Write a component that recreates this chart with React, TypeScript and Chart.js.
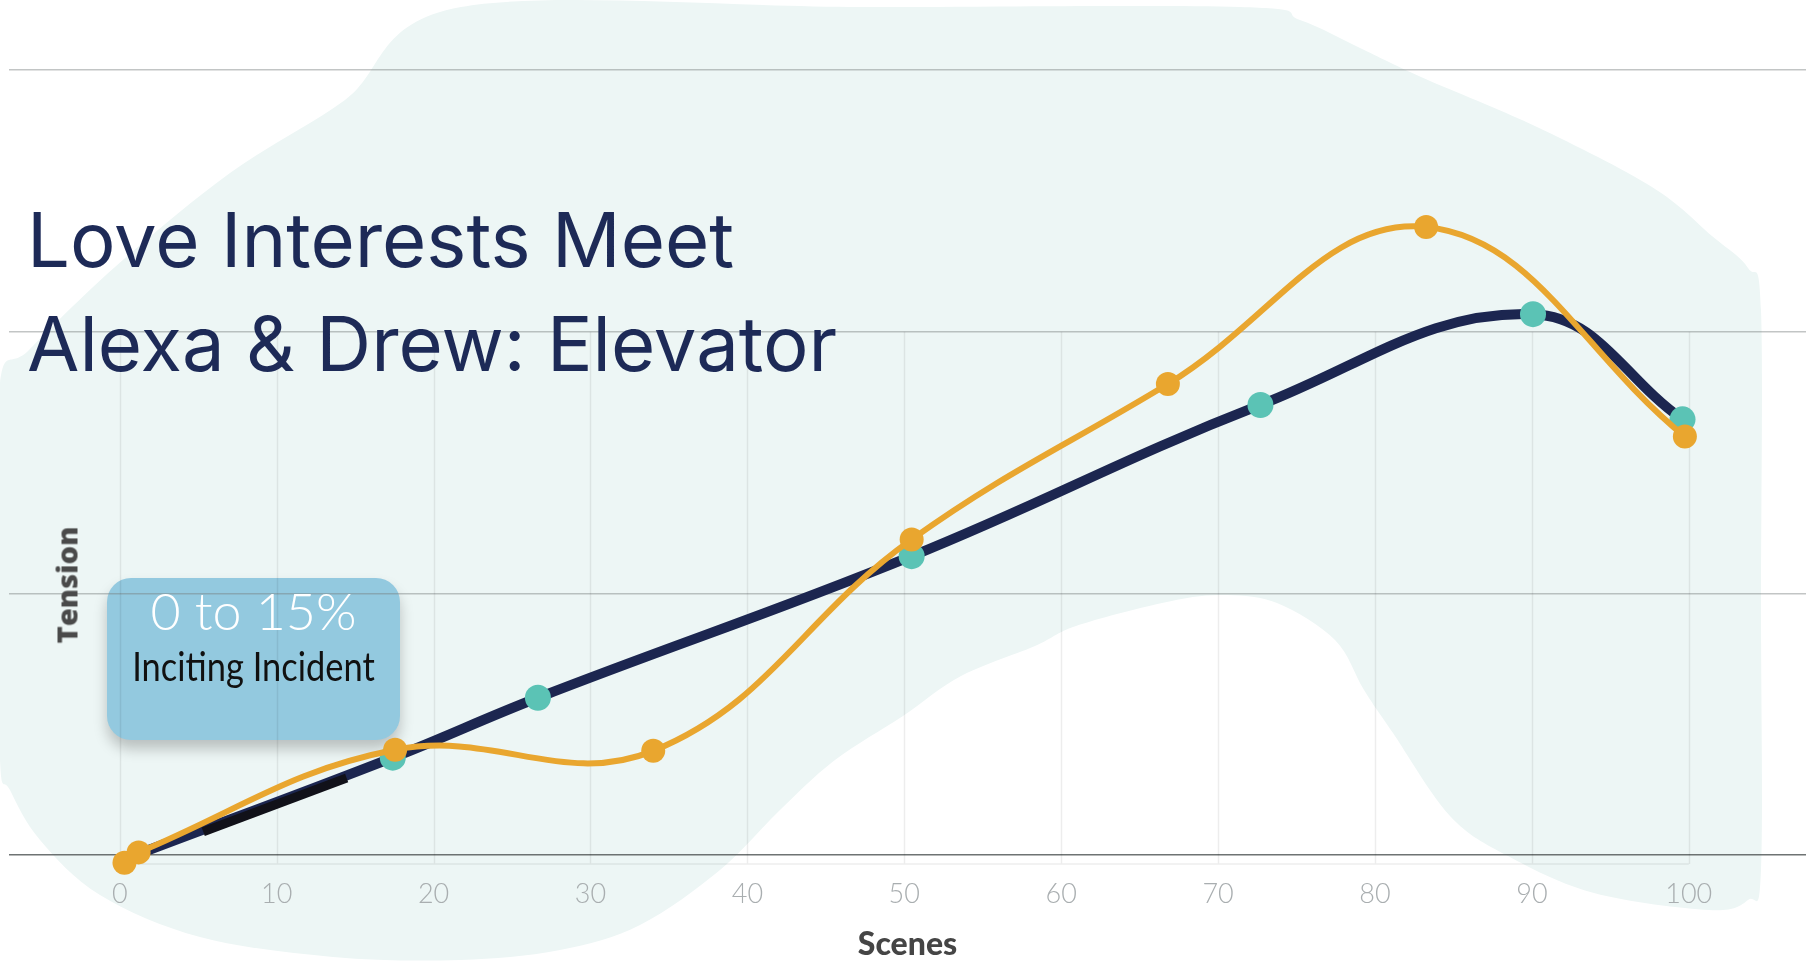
import React, { useEffect, useRef } from "react";
import { Chart, registerables } from "chart.js";

Chart.register(...registerables);

// ---- data ----
const X_TICKS = [0, 10, 20, 30, 40, 50, 60, 70, 80, 90, 100];
const Y_TICKS = [0, 1, 2, 3];
const V_GRID_TOP = 2; // vertical grid lines start at this tension value

const IDEAL_X = [1, 17.4, 26.65, 50.47, 72.7, 90.07, 99.6];
const IDEAL_Y = [0, 0.372, 0.601, 1.142, 1.72, 2.067, 1.665];

const STORY_X = [0.3, 1.2, 17.55, 34.0, 50.47, 66.8, 83.26, 99.75];
const STORY_Y = [-0.03, 0.01, 0.402, 0.398, 1.206, 1.8, 2.4, 1.599];

const MARK_X = [5.32, 14.46];
const MARK_Y = [0.089, 0.294];

const TITLE_LINES = ["Love Interests Meet", "Alexa & Drew: Elevator"];
const CALLOUT_TOP = "0 to 15%";
const CALLOUT_BOTTOM = "Inciting Incident";
const X_TITLE = "Scenes";
const Y_TITLE = "Tension";

// ---- layout constants ----
const W = 1806;
const H = 966;
const X_MIN = -7.06;
const X_MAX = 107.47;

const BLOB_PTS: [number, number][] = [
  [461, 7], [861, 7], [1240, 7], [1300, 20], [1360, 48], [1421, 77], [1537, 127],
  [1652, 187], [1712, 236], [1748, 268], [1761, 310], [1761, 600], [1761, 870],
  [1748, 900], [1709, 910], [1594, 893], [1508, 856], [1450, 816], [1393, 733],
  [1364, 690], [1335, 640], [1277, 603], [1220, 595], [1162, 603], [1076, 626],
  [1035, 646], [961, 676], [903, 716], [835, 760], [780, 810], [720, 870], [640, 925],
  [560, 950], [460, 960], [333, 957], [200, 937], [100, 895], [40, 840], [10, 790],
  [0, 760], [0, 570], [0, 383], [29, 350], [115, 267], [230, 173], [345, 100],
];

function smoothClosedPath(pts: [number, number][]) {
  const n = pts.length;
  let d = `M ${pts[0][0]} ${pts[0][1]}`;
  for (let i = 0; i < n; i++) {
    const p0 = pts[(i - 1 + n) % n];
    const p1 = pts[i];
    const p2 = pts[(i + 1) % n];
    const p3 = pts[(i + 2) % n];
    const c1x = p1[0] + (p2[0] - p0[0]) / 6;
    const c1y = p1[1] + (p2[1] - p0[1]) / 6;
    const c2x = p2[0] - (p3[0] - p1[0]) / 6;
    const c2y = p2[1] - (p3[1] - p1[1]) / 6;
    d += ` C ${c1x} ${c1y} ${c2x} ${c2y} ${p2[0]} ${p2[1]}`;
  }
  return d + " Z";
}

const partialGrid = {
  id: "partialGrid",
  beforeDatasetsDraw(chart: any) {
    const { ctx, chartArea, scales } = chart;
    const xs = scales.x;
    const ys = scales.y;
    const top = ys.getPixelForValue(V_GRID_TOP);
    const bottom = chartArea.bottom + 9;
    ctx.save();
    ctx.strokeStyle = "rgba(0,0,0,0.07)";
    ctx.lineWidth = 1.5;
    ctx.beginPath();
    X_TICKS.forEach((v) => {
      const x = Math.round(xs.getPixelForValue(v)) + 0.5;
      ctx.moveTo(x, top);
      ctx.lineTo(x, bottom);
    });
    ctx.moveTo(xs.getPixelForValue(X_TICKS[0]), bottom);
    ctx.lineTo(xs.getPixelForValue(X_TICKS[X_TICKS.length - 1]), bottom);
    ctx.stroke();
    ctx.restore();
  },
};

export default function App() {
  const ref = useRef<HTMLCanvasElement | null>(null);

  useEffect(() => {
    document.body.style.margin = "0";
    const canvas = ref.current;
    if (!canvas) return;
    const chart = new Chart(canvas, {
      type: "line",
      data: {
        datasets: [
          {
            label: "Story",
            data: STORY_X.map((x, i) => ({ x, y: STORY_Y[i] })),
            borderColor: "#E9A62F",
            backgroundColor: "#E9A62F",
            borderWidth: 6,
            pointBackgroundColor: "#E9A62F",
            pointBorderWidth: 0,
            pointRadius: 12,
            tension: 0.4,
            clip: false as any,
            fill: false,
          },
          {
            label: "Mark",
            data: MARK_X.map((x, i) => ({ x, y: MARK_Y[i] })),
            borderColor: "#111119",
            borderWidth: 9,
            pointRadius: 0,
            tension: 0,
            fill: false,
          },
          {
            label: "Ideal",
            data: IDEAL_X.map((x, i) => ({ x, y: IDEAL_Y[i] })),
            borderColor: "#1C2650",
            backgroundColor: "#5BC3B5",
            borderWidth: 10,
            pointBackgroundColor: "#5BC3B5",
            pointBorderWidth: 0,
            pointRadius: (c: any) => (c.dataIndex === 0 ? 0 : 13),
            tension: 0.4,
            clip: false as any,
            fill: false,
          },
        ],
      },
      options: {
        responsive: false,
        animation: false,
        devicePixelRatio: 1,
        layout: { autoPadding: false, padding: { left: 9, right: 0, top: 70, bottom: 0 } },
        plugins: { legend: { display: false }, tooltip: { enabled: false } },
        scales: {
          x: {
            type: "linear",
            min: X_MIN,
            max: X_MAX,
            afterBuildTicks: (s: any) => {
              s.ticks = X_TICKS.map((v) => ({ value: v }));
            },
            afterFit: (s: any) => {
              s.paddingLeft = 0;
              s.paddingRight = 0;
              s.height = 111;
            },
            ticks: {
              color: "#A9AEB0",
              padding: 23,
              font: { family: "Lato, 'Open Sans', sans-serif", size: 27, weight: "300" as any },
              callback: (v: any) => String(v),
            },
            grid: { display: false, drawTicks: false },
            border: { display: false },
            title: {
              display: true,
              text: X_TITLE,
              color: "#454545",
              font: { family: "Lato, 'Open Sans', sans-serif", size: 32, weight: "900" as any },
              padding: { top: 0, bottom: 2 },
            },
          },
          y: {
            type: "linear",
            min: Y_TICKS[0],
            max: Y_TICKS[Y_TICKS.length - 1],
            afterBuildTicks: (s: any) => {
              s.ticks = Y_TICKS.map((v) => ({ value: v }));
            },
            afterFit: (s: any) => {
              s.width = 0;
              s.paddingTop = 0;
              s.paddingBottom = 0;
            },
            ticks: { display: false },
            grid: {
              color: (c: any) =>
                c.tick && c.tick.value === 0 ? "rgba(85,90,90,0.85)" : "rgba(120,126,126,0.45)",
              lineWidth: 1.5,
              drawTicks: false,
            },
            border: { display: false },
          },
        },
      },
      plugins: [partialGrid],
    });
    return () => chart.destroy();
  }, []);

  return (
    <div
      style={{
        position: "absolute",
        left: 0,
        top: 0,
        width: W,
        height: H,
        overflow: "hidden",
        background: "#ffffff",
      }}
    >
      <svg width={W} height={H} style={{ position: "absolute", left: 0, top: 0 }}>
        <path d={smoothClosedPath(BLOB_PTS)} fill="#EDF6F5" />
      </svg>
      <div
        style={{
          position: "absolute",
          left: 107,
          top: 578,
          width: 293,
          height: 162,
          background: "#93C9DF",
          borderRadius: 24,
          boxShadow: "0 9px 14px rgba(0,0,0,0.22)",
        }}
      />
      <canvas
        ref={ref}
        width={W}
        height={H}
        style={{ position: "absolute", left: 0, top: 0, width: W, height: H }}
      />
      {TITLE_LINES.map((t, i) => (
        <div
          key={i}
          style={{
            position: "absolute",
            left: 27,
            top: i === 0 ? 201 : 305,
            fontFamily: "Inter, 'Noto Sans', sans-serif",
            fontWeight: 400,
            fontSize: 76,
            lineHeight: 1,
            color: "#1D2A57",
            whiteSpace: "nowrap",
          }}
        >
          {t}
        </div>
      ))}
      <div
        style={{
          position: "absolute",
          left: 107,
          width: 293,
          top: 584,
          textAlign: "center",
          fontFamily: "Lato, 'Open Sans', sans-serif",
          fontWeight: 300,
          fontSize: 52,
          lineHeight: 1,
          color: "#ffffff",
          whiteSpace: "nowrap",
        }}
      >
        {CALLOUT_TOP}
      </div>
      <div
        style={{
          position: "absolute",
          left: 107,
          width: 293,
          top: 645,
          textAlign: "center",
          fontFamily: "Lato, 'Open Sans', sans-serif",
          fontWeight: 400,
          fontSize: 41,
          lineHeight: 1,
          color: "#111111",
          whiteSpace: "nowrap",
          transform: "scaleX(0.84)",
          transformOrigin: "50% 50%",
        }}
      >
        {CALLOUT_BOTTOM}
      </div>
      <div
        style={{
          position: "absolute",
          left: 66,
          top: 585,
          transform: "translate(-50%, -50%) rotate(-90deg)",
          fontFamily: "'Open Sans', Lato, sans-serif",
          fontWeight: 800,
          fontSize: 29,
          lineHeight: 1,
          color: "#4A4A4A",
          whiteSpace: "nowrap",
        }}
      >
        {Y_TITLE}
      </div>
    </div>
  );
}
